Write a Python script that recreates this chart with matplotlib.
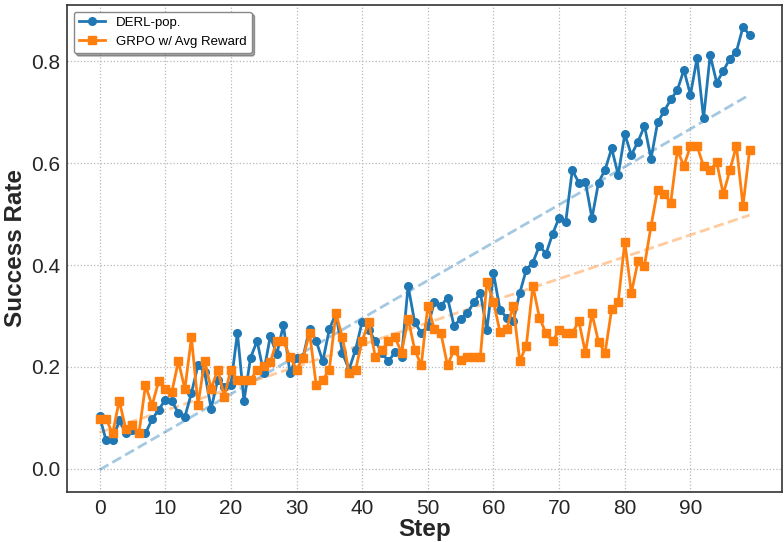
import numpy as np
import matplotlib
matplotlib.use("Agg")
import matplotlib.pyplot as plt

plt.rcParams["font.family"] = ["Liberation Sans", "DejaVu Sans"]

# success rate per training step
steps = list(range(100))

derl_pop = [
    0.103, 0.056, 0.056, 0.095, 0.070, 0.077, 0.070, 0.070, 0.097, 0.116,
    0.135, 0.133, 0.110, 0.102, 0.149, 0.203, 0.190, 0.118, 0.175, 0.161,
    0.165, 0.267, 0.133, 0.218, 0.251, 0.189, 0.260, 0.225, 0.282, 0.189,
    0.218, 0.220, 0.275, 0.251, 0.211, 0.274, 0.305, 0.227, 0.195, 0.234,
    0.289, 0.273, 0.251, 0.228, 0.211, 0.229, 0.220, 0.359, 0.288, 0.267,
    0.280, 0.327, 0.320, 0.336, 0.280, 0.295, 0.305, 0.327, 0.345, 0.273,
    0.384, 0.312, 0.297, 0.290, 0.345, 0.391, 0.405, 0.438, 0.422, 0.461,
    0.493, 0.484, 0.586, 0.562, 0.563, 0.492, 0.562, 0.587, 0.629, 0.577,
    0.657, 0.616, 0.642, 0.673, 0.609, 0.680, 0.702, 0.725, 0.743, 0.783,
    0.734, 0.806, 0.688, 0.812, 0.758, 0.781, 0.805, 0.819, 0.867, 0.852,
]

grpo_avg = [
    0.097, 0.097, 0.070, 0.134, 0.078, 0.087, 0.070, 0.164, 0.124, 0.172,
    0.157, 0.150, 0.211, 0.157, 0.258, 0.126, 0.211, 0.157, 0.195, 0.142,
    0.195, 0.174, 0.174, 0.174, 0.195, 0.202, 0.209, 0.251, 0.251, 0.220,
    0.195, 0.218, 0.267, 0.164, 0.174, 0.195, 0.305, 0.258, 0.189, 0.195,
    0.251, 0.288, 0.220, 0.233, 0.251, 0.258, 0.228, 0.295, 0.234, 0.203,
    0.320, 0.274, 0.266, 0.203, 0.234, 0.213, 0.220, 0.220, 0.220, 0.367,
    0.328, 0.268, 0.274, 0.320, 0.211, 0.242, 0.359, 0.297, 0.266, 0.250,
    0.273, 0.266, 0.266, 0.290, 0.228, 0.305, 0.249, 0.228, 0.313, 0.328,
    0.445, 0.345, 0.407, 0.399, 0.477, 0.548, 0.540, 0.522, 0.625, 0.595,
    0.633, 0.634, 0.594, 0.586, 0.602, 0.539, 0.586, 0.634, 0.516, 0.625,
]

BLUE = "#1f77b4"
ORANGE = "#ff7f0e"

fig = plt.figure(figsize=(7.84, 5.42), dpi=100)
ax = fig.add_axes([0.0855, 0.0923, 0.912, 0.8985])

x = np.array(steps)
ax.plot(x, derl_pop, color=BLUE, marker="o", markersize=5.5, linewidth=2,
        label="DERL-pop.", zorder=3)
ax.plot(x, grpo_avg, color=ORANGE, marker="s", markersize=6, linewidth=2,
        label="GRPO w/ Avg Reward", zorder=3)

# linear trend for each run
for ys, c in [(derl_pop, BLUE), (grpo_avg, ORANGE)]:
    k, b = np.polyfit(x, ys, 1)
    ax.plot(x, k * x + b, color=c, linestyle="--", linewidth=2, alpha=0.4, zorder=2)

ax.set_xticks(range(0, 100, 10))
ax.set_yticks([0.0, 0.2, 0.4, 0.6, 0.8])
ax.tick_params(axis="both", labelsize=15, length=0, labelcolor="#262626")
ax.tick_params(axis="x", pad=5)
ax.tick_params(axis="y", pad=5)
ax.set_xlabel("Step", fontsize=17.5, fontweight="bold", labelpad=0, color="#262626")
ax.set_ylabel("Success Rate", fontsize=17.5, fontweight="bold", labelpad=3, color="#262626")
ax.grid(True, linestyle=":", color="#b8b8b8", linewidth=0.9)
for s in ax.spines.values():
    s.set_color("#333333")
    s.set_linewidth(1.2)

ax.legend(loc="upper left", fontsize=9.5, frameon=True, fancybox=True,
          shadow=True, framealpha=1, edgecolor="#888888")

fig.savefig("out.png", dpi=100)
